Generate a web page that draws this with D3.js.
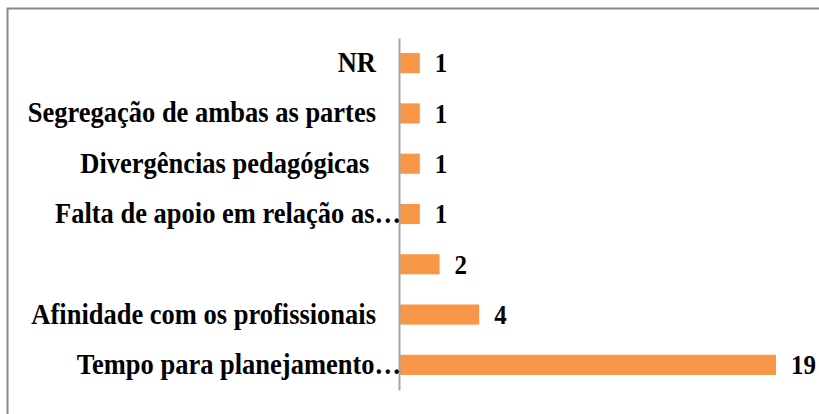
<!DOCTYPE html>
<html>
<head>
<meta charset="utf-8">
<script src="https://cdn.jsdelivr.net/npm/d3@7"></script>
<style>
  body { margin: 0; background: #fff; }
  svg { display: block; }
</style>
</head>
<body>
<div id="chart"></div>
<script>
// categorias (de cima para baixo), como aparecem no gráfico
const categories = [
  "NR",
  "Segregação de ambas as partes",
  "Divergências pedagógicas ",
  "Falta de apoio em relação as…",
  "",
  "Afinidade com os profissionais",
  "Tempo para planejamento…"
];
const values = [1, 1, 1, 1, 2, 4, 19];

const FONT = "'Liberation Serif', 'Times New Roman', serif";
const STRETCH = 1.1; // o texto do original está um pouco esticado na vertical

const width = 819, height = 414;
const svg = d3.select("#chart").append("svg")
  .attr("width", width)
  .attr("height", height);

// moldura (cortada à direita e embaixo)
svg.append("rect")
  .attr("x", 7.5)
  .attr("y", 8.5)
  .attr("width", 900)
  .attr("height", 500)
  .attr("fill", "none")
  .attr("stroke", "#8a8a8a")
  .attr("stroke-width", 2);

const idx = d3.range(categories.length);

const yscale = d3.scaleBand()
  .domain(idx)
  .range([38, 390])
  .paddingInner(0.6)
  .paddingOuter(0.3);

const xscale = d3.scaleLinear()
  .domain([0, 19])
  .range([400, 776]);

// barras
svg.append("g")
  .selectAll("rect")
  .data(idx)
  .enter()
  .append("rect")
  .attr("class", "bar")
  .attr("x", xscale(0))
  .attr("y", i => yscale(i))
  .attr("width", i => xscale(values[i]) - xscale(0))
  .attr("height", yscale.bandwidth())
  .attr("fill", "#F79646");

// eixo vertical com os rótulos
const yaxis = svg.append("g")
  .attr("transform", `translate(${xscale(0) - 1},0)`)
  .call(d3.axisLeft(yscale)
    .tickSize(0)
    .tickPadding(23)
    .tickFormat(i => categories[i]));

yaxis.attr("font-family", FONT).attr("font-size", null);

yaxis.select(".domain")
  .attr("stroke", "#a6a6a6")
  .attr("stroke-width", 2);

yaxis.selectAll(".tick text")
  .attr("font-family", FONT)
  .attr("font-weight", "bold")
  .attr("font-size", 26.5)
  .style("white-space", "pre")
  .attr("fill", "#000")
  .attr("transform", `scale(1,${STRETCH})`)
  .attr("dy", "0.31em")
  .attr("x", i => categories[i].endsWith("…") ? 2 : -23);

// rótulos de valor
svg.append("g")
  .selectAll("text")
  .data(idx)
  .enter()
  .append("text")
  .attr("transform", i =>
    `translate(${xscale(values[i]) + 15},${yscale(i) + yscale.bandwidth() / 2}) scale(1,${STRETCH})`)
  .attr("dy", "0.34em")
  .attr("font-family", FONT)
  .attr("font-weight", "bold")
  .attr("font-size", 25)
  .text(i => values[i]);
</script>
</body>
</html>
